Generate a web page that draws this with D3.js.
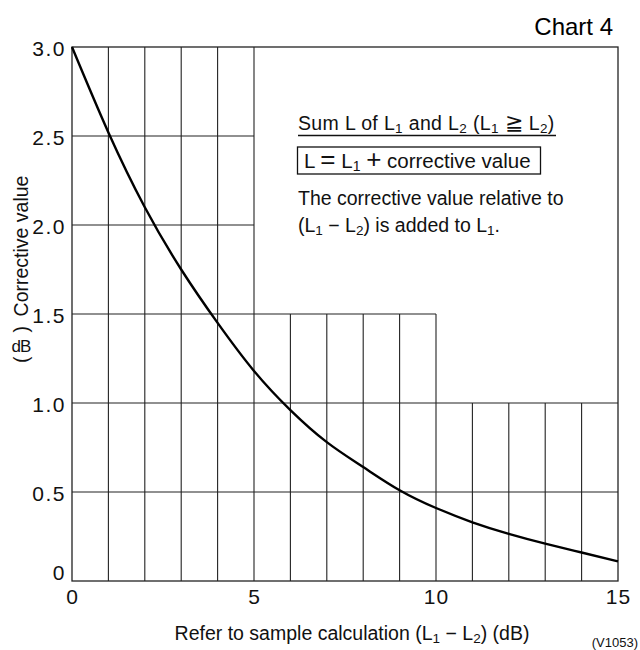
<!DOCTYPE html>
<html>
<head>
<meta charset="utf-8">
<script src="https://cdn.jsdelivr.net/npm/d3@7"></script>
<style>
  html, body { margin: 0; padding: 0; background: #fff; }
  svg { display: block; font-family: "Liberation Sans", Arial, sans-serif; }
  .tick text { fill: #111; }
</style>
</head>
<body>
<svg id="chart" width="640" height="650"></svg>
<script>
// Level difference L1 - L2 (dB)
const diffs = [0, 1, 2, 3, 4, 5, 6, 7, 8, 9, 10, 11, 12, 13, 14, 15];
// Corrective value added to L1 (dB)
const corrections = [3.0, 2.52, 2.1, 1.75, 1.45, 1.18, 0.96, 0.78, 0.64, 0.51, 0.41, 0.33, 0.265, 0.21, 0.16, 0.11];

const xTickValues = [0, 5, 10, 15];
const xTickLabels = ["0", "5", "10", "15"];
const yTickValues = [0, 0.5, 1.0, 1.5, 2.0, 2.5, 3.0];
const yTickLabels = ["0", "0.5", "1.0", "1.5", "2.0", "2.5", "3.0"];

// Stepped grid: how high each vertical line reaches, how far each horizontal line runs
const vGridX = [1, 2, 3, 4, 5, 6, 7, 8, 9, 10, 11, 12, 13, 14];
const vGridTop = [3, 3, 3, 3, 3, 1.5, 1.5, 1.5, 1.5, 1.5, 1, 1, 1, 1];
const hGridY = [0.5, 1.0, 1.5, 2.0, 2.5];
const hGridEnd = [15, 15, 10, 5, 5];

const svg = d3.select("#chart");
const x = d3.scaleLinear().domain([0, 15]).range([72, 618]);
const y = d3.scaleLinear().domain([0, 3]).range([581, 47]);

// grid
const grid = svg.append("g").attr("stroke", "#222").attr("stroke-width", 1.1).attr("fill", "none");
vGridX.forEach((v, i) => {
  grid.append("line")
    .attr("x1", x(v)).attr("x2", x(v))
    .attr("y1", y(0)).attr("y2", y(vGridTop[i]));
});
hGridY.forEach((v, i) => {
  grid.append("line")
    .attr("x1", x(0)).attr("x2", x(hGridEnd[i]))
    .attr("y1", y(v)).attr("y2", y(v));
});
// outer frame
grid.append("rect")
  .attr("x", x(0)).attr("y", y(3))
  .attr("width", x(15) - x(0)).attr("height", y(0) - y(3))
  .attr("stroke-width", 1.3);

// curve
const line = d3.line()
  .x((d, i) => x(diffs[i]))
  .y(d => y(d))
  .curve(d3.curveNatural);
svg.append("path")
  .datum(corrections)
  .attr("d", line)
  .attr("fill", "none")
  .attr("stroke", "#000")
  .attr("stroke-width", 2.4);

// y axis labels
const yAxis = d3.axisLeft(y)
  .tickValues(yTickValues)
  .tickSize(0)
  .tickPadding(6)
  .tickFormat((d, i) => yTickLabels[i]);
const gy = svg.append("g").attr("transform", `translate(${x(0)},0)`).call(yAxis);
gy.select(".domain").remove();
gy.selectAll(".tick text")
  .attr("font-size", 21)
  .attr("letter-spacing", 1.5)
  .attr("dy", (d) => d === 0 ? "-0.05em" : "0.42em");

// x axis labels
const xAxis = d3.axisBottom(x)
  .tickValues(xTickValues)
  .tickSize(0)
  .tickPadding(8)
  .tickFormat((d, i) => xTickLabels[i]);
const gx = svg.append("g").attr("transform", `translate(0,${y(0)})`).call(xAxis);
gx.select(".domain").remove();
gx.selectAll(".tick text")
  .attr("font-size", 21)
  .attr("letter-spacing", 1);

// helper for text with subscripts / enlarged symbols: parts are [text, kind]
function richText(sel, parts, subSize, bigSize) {
  parts.forEach(([t, kind]) => {
    const ts = sel.append("tspan").text(t);
    if (kind === "sub") ts.attr("font-size", subSize).attr("baseline-shift", "-18%");
    if (kind === "big") ts.attr("font-size", bigSize);
  });
  return sel;
}

// title
svg.append("text")
  .attr("x", 613).attr("y", 35)
  .attr("text-anchor", "end")
  .attr("font-size", 24)
  .text("Chart 4");

// y axis title
const yTitle = svg.append("g").attr("font-size", 19.5).attr("fill", "#111");
yTitle.append("text")
  .attr("transform", "translate(28,246) rotate(-90)")
  .attr("text-anchor", "middle")
  .text("Corrective value");
yTitle.append("text")
  .attr("transform", "translate(28,363) rotate(-90)")
  .attr("text-anchor", "start")
  .text("(");
yTitle.append("text")
  .attr("transform", "translate(28,326) rotate(-90)")
  .attr("text-anchor", "end")
  .text(")");
yTitle.append("text")
  .attr("x", 21).attr("y", 352)
  .attr("text-anchor", "middle")
  .attr("font-size", 17)
  .attr("letter-spacing", -1)
  .text("dB");

// annotation block
const note = svg.append("g").attr("font-size", 19.5).attr("fill", "#111");
richText(note.append("text").attr("x", 298).attr("y", 130).attr("letter-spacing", 0.35),
  [["Sum L of L"], ["1", "sub"], [" and L"], ["2", "sub"], [" (L"], ["1", "sub"], [" "], ["\u2267", "big"], [" L"], ["2", "sub"], [")"]], 13.5, 22);
note.append("line")
  .attr("x1", 298).attr("x2", 556)
  .attr("y1", 135.5).attr("y2", 135.5)
  .attr("stroke", "#111").attr("stroke-width", 1.3);
note.append("rect")
  .attr("x", 297.5).attr("y", 147)
  .attr("width", 243).attr("height", 27)
  .attr("fill", "none").attr("stroke", "#111").attr("stroke-width", 1.3);
richText(note.append("text").attr("x", 304).attr("y", 168).attr("font-size", 20.5),
  [["L "], ["=", "big"], [" L"], ["1", "sub"], [" "], ["+", "big"], [" corrective value"]], 14, 26);
note.append("text").attr("x", 298).attr("y", 205)
  .text("The corrective value relative to");
richText(note.append("text").attr("x", 298).attr("y", 232),
  [["(L"], ["1", "sub"], [" \u2212 L"], ["2", "sub"], [") is added to L"], ["1", "sub"], ["."]], 13.5);

// x axis title
richText(svg.append("text").attr("x", 352).attr("y", 640).attr("text-anchor", "middle").attr("font-size", 19.5).attr("fill", "#111"),
  [["Refer to sample calculation (L"], ["1", "sub"], [" \u2212 L"], ["2", "sub"], [") (dB)"]], 13.5);

svg.append("text")
  .attr("x", 638).attr("y", 647)
  .attr("text-anchor", "end")
  .attr("font-size", 13)
  .attr("fill", "#111")
  .text("(V1053)");
</script>
</body>
</html>
